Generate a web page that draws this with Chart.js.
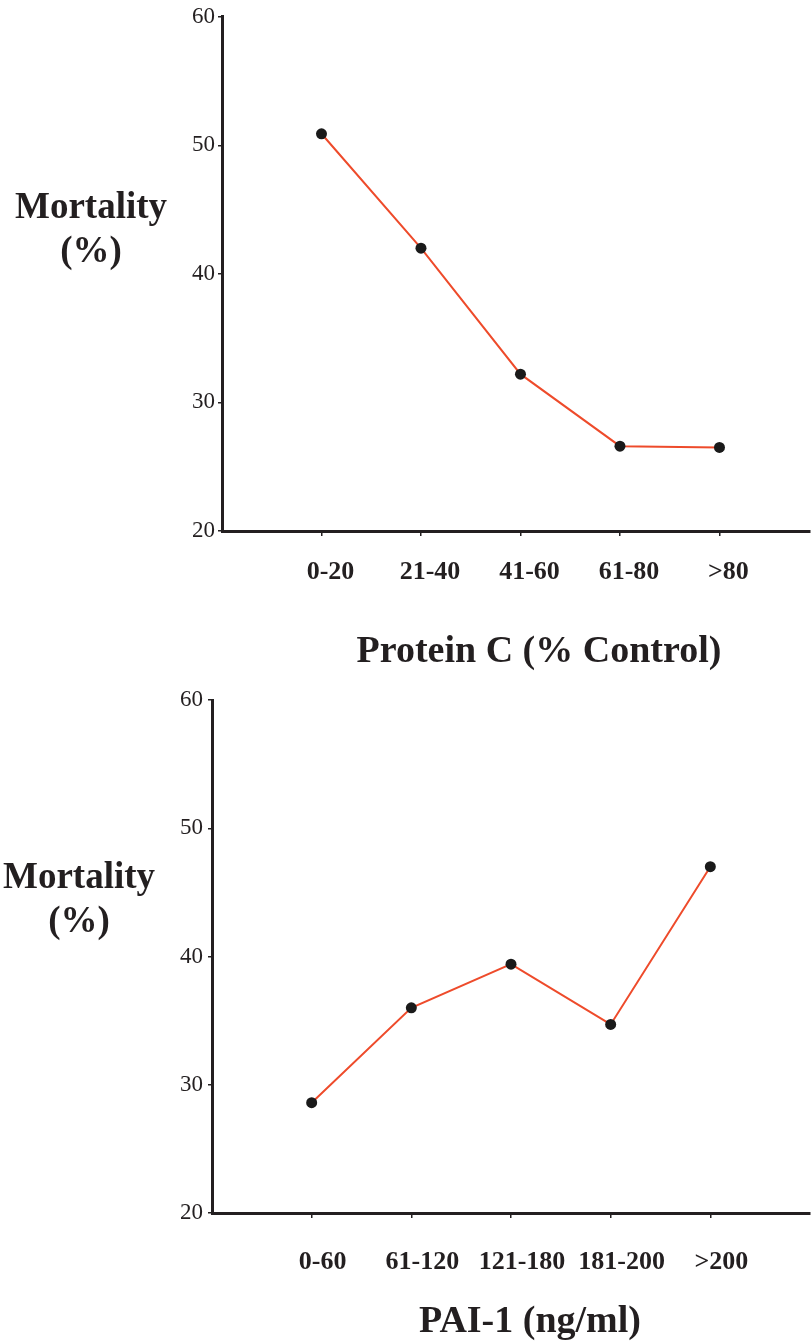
<!DOCTYPE html>
<html>
<head>
<meta charset="utf-8">
<script src="https://cdn.jsdelivr.net/npm/chart.js@4.4.1/dist/chart.umd.min.js"></script>
<style>
  html, body { margin: 0; padding: 0; background: #fff; }
  #page { position: relative; width: 811px; height: 1343px; overflow: hidden; font-family: "Liberation Serif", "Times New Roman", serif; color: #231f20; }
  .box { position: absolute; left: 0; width: 811px; }
  .ylab { position: absolute; width: 200px; text-align: center; font-weight: bold; font-size: 37px; line-height: 44px; }
  .xlab { position: absolute; width: 500px; text-align: center; font-weight: bold; font-size: 38px; line-height: 46px; white-space: nowrap; }
</style>
</head>
<body>
<div id="page">
  <div class="box" style="top:0;height:680px"><canvas id="proteinChart"></canvas></div>
  <div class="box" style="top:680px;height:663px"><canvas id="paiChart"></canvas></div>

  <div class="ylab" style="left:-9px;top:184px">Mortality<br>(%)</div>
  <div class="xlab" style="left:289px;top:626px">Protein C (% Control)</div>

  <div class="ylab" style="left:-21px;top:854px">Mortality<br>(%)</div>
  <div class="xlab" style="left:280px;top:1296px">PAI-1 (ng/ml)</div>
</div>

<script>
// Top panel: mortality by protein C level
const proteinLabels = ['0-20', '21-40', '41-60', '61-80', '>80'];
const proteinMortality = [50.9, 42.0, 32.2, 26.6, 26.5];

// Bottom panel: mortality by PAI-1 level
const paiLabels = ['0-60', '61-120', '121-180', '181-200', '>200'];
const paiMortality = [28.6, 36.0, 39.4, 34.7, 47.0];

// Shared y axis
const yMin = 20;
const yMax = 60;
const yStep = 10;

const INK = '#231f20';
const LINE = '#ee4b2b';

function makeChart(id, labels, values, opts) {
    const ctx = document.getElementById(id);
    return new Chart(ctx, {
        type: 'line',
        data: {
            datasets: [{
                data: values.map((v, i) => ({ x: i + 1, y: v })),
                borderColor: LINE,
                borderWidth: 2,
                backgroundColor: '#1a1a1a',
                pointBackgroundColor: '#1a1a1a',
                pointBorderWidth: 0,
                pointRadius: 5.5,
                tension: 0,
                fill: false
            }]
        },
        options: {
            responsive: true,
            maintainAspectRatio: false,
            animation: false,
            layout: {
                autoPadding: false,
                padding: { left: opts.left - 60, top: opts.top, right: 1, bottom: opts.bottom }
            },
            plugins: {
                legend: { display: false },
                tooltip: { enabled: false }
            },
            scales: {
                x: {
                    type: 'linear',
                    min: 0,
                    max: opts.xMax,
                    afterBuildTicks: axis => {
                        axis.ticks = labels.map((_, i) => ({ value: i + 1 }));
                    },
                    afterFit: axis => {
                        axis.height = 100;
                        // the axis line runs to the right edge, no label padding needed
                        axis.paddingLeft = 0;
                        axis.paddingRight = 0;
                    },
                    border: { display: true, width: 3, color: INK },
                    grid: { drawOnChartArea: false, drawTicks: true, tickLength: 5, lineWidth: 1.5, color: INK },
                    ticks: {
                        callback: v => labels[v - 1],
                        font: { family: 'Liberation Serif', size: 26, weight: 'bold' },
                        color: INK,
                        padding: opts.xPad,
                        labelOffset: opts.labelOffset,
                        maxRotation: 0,
                        autoSkip: false
                    }
                },
                y: {
                    min: yMin,
                    max: yMax,
                    afterFit: axis => { axis.width = 60; },
                    border: { display: true, width: 3, color: INK },
                    grid: { drawOnChartArea: false, drawTicks: true, tickLength: 4, lineWidth: 1.5, color: INK },
                    ticks: {
                        stepSize: yStep,
                        font: { family: 'Liberation Serif', size: 23 },
                        color: INK,
                        padding: opts.yPad
                    }
                }
            }
        }
    });
}

makeChart('proteinChart', proteinLabels, proteinMortality,
    { left: 222, top: 16, bottom: 680 - 531 - 100, xMax: 5.91, xPad: 21, yPad: 3, labelOffset: 9 });

makeChart('paiChart', paiLabels, paiMortality,
    { left: 212, top: 20, bottom: 663 - 533 - 100, xMax: 6.0, xPad: 29, yPad: 5, labelOffset: 11 });
</script>
</body>
</html>
